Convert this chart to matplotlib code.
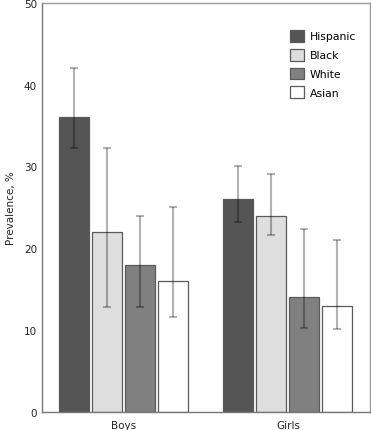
import numpy as np
import matplotlib.pyplot as plt

groups = ["Boys", "Girls"]
races = ["Hispanic", "Black", "White", "Asian"]
prevalence = {
    "Hispanic": [36, 26],
    "Black": [22, 24],
    "White": [18, 14],
    "Asian": [16, 13],
}
ci_low = {
    "Hispanic": [32.3, 23.2],
    "Black": [12.8, 21.6],
    "White": [12.8, 10.3],
    "Asian": [11.6, 10.1],
}
ci_high = {
    "Hispanic": [42.0, 30.1],
    "Black": [32.3, 29.1],
    "White": [24.0, 22.3],
    "Asian": [25.0, 21.0],
}
colors = {"Hispanic": "#555555", "Black": "#dedede", "White": "#808080", "Asian": "#ffffff"}

fig = plt.figure(figsize=(3.71, 4.31), dpi=100)
ax = fig.add_axes([0.113, 0.042, 0.884, 0.949])

x = np.arange(len(groups))
step = 0.201
width = 0.183
for i, r in enumerate(races):
    pos = x + (i - 1.5) * step
    vals = np.array(prevalence[r])
    err = [vals - np.array(ci_low[r]), np.array(ci_high[r]) - vals]
    ax.bar(pos, vals, width, color=colors[r], edgecolor="#5a5a5a", linewidth=0.9, label=r)
    ax.errorbar(pos, vals, yerr=err, fmt="none", ecolor=(0, 0, 0, 0.3),
                elinewidth=1.5, capsize=3, capthick=1.5)

ax.set_xlim(-0.5, 1.5)
ax.set_ylim(0, 50)
ax.set_yticks([0, 10, 20, 30, 40, 50])
ax.set_xticks(x)
ax.set_xticklabels(groups)
ax.tick_params(length=0, labelsize=7.5, colors="#222222", pad=3.5)
ax.tick_params(axis="x", pad=6)
ax.set_ylabel("Prevalence, %", fontsize=7.5, color="#222222", labelpad=6)
for s in ax.spines.values():
    s.set_color("#999999")
    s.set_linewidth(1)
ax.spines["left"].set_color("#777777")
ax.spines["bottom"].set_color("#777777")

ax.legend(loc="upper left", bbox_to_anchor=(0.756, 0.934), frameon=False, fontsize=7.8,
          handlelength=1.3, handleheight=1.3, handletextpad=0.55, labelspacing=0.65,
          borderaxespad=0, borderpad=0)

fig.savefig("out.png", dpi=100)
